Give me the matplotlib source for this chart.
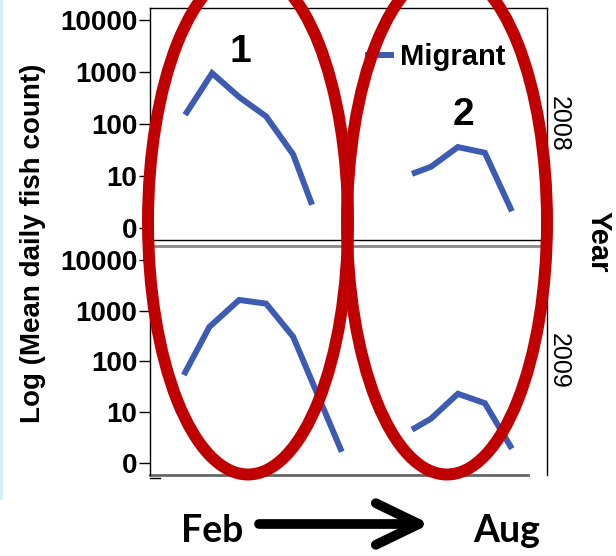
import numpy as np
import matplotlib
matplotlib.use("Agg")
import matplotlib.pyplot as plt
from matplotlib.patches import Ellipse, FancyArrowPatch, Rectangle

plt.rcParams['font.family'] = ['Liberation Sans', 'DejaVu Sans']

# weeks since start of February, mean daily counts (nan = gap between runs)
weeks_2008 = [1.3, 2.3, 3.3, 4.3, 5.3, 6.0, 8.0, 9.7, 10.4, 11.4, 12.4, 13.4]
counts_2008 = [150, 950, 330, 140, 26, 2.8, np.nan, 11, 15, 36, 28, 2.1]
weeks_2009 = [1.25, 2.2, 3.3, 4.3, 5.3, 7.1, 8.0, 9.7, 10.4, 11.4, 12.4, 13.4]
counts_2009 = [54, 480, 1630, 1380, 307, 1.65, np.nan, 4.5, 7.4, 23, 15, 1.9]

ytick_vals = [1, 10, 100, 1000, 10000]
ytick_labels = ['0', '10', '100', '1000', '10000']
years = ['2008', '2009']

W, H = 616, 556
fig = plt.figure(figsize=(W / 100, H / 100), dpi=100)

def fx(px):
    return px / W

def fy(py):
    return 1 - py / H

blue = '#3d5cb1'
red = '#c00000'

ax1 = fig.add_axes([fx(150), fy(240), fx(547) - fx(150), fy(8) - fy(240)])
ax2 = fig.add_axes([fx(150), fy(475), fx(547) - fx(150), fy(246) - fy(475)])

panels = [(ax1, weeks_2008, counts_2008, (0.588, 17000)),
          (ax2, weeks_2009, counts_2009, (0.575, 18900))]
for ax, wk, ct, ylim in panels:
    ax.plot(wk, ct, color=blue, lw=4.3, solid_capstyle='butt',
            solid_joinstyle='miter', label='Migrant')
    ax.set_yscale('log')
    ax.set_ylim(*ylim)
    ax.set_xlim(0, 14.7)
    ax.set_yticks(ytick_vals)
    ax.set_yticklabels(ytick_labels)
    ax.minorticks_off()
    ax.set_xticks([])
    ax.tick_params(axis='y', length=8, width=1, labelsize=20, pad=1)
    for lab in ax.get_yticklabels():
        lab.set_fontweight('bold')
    for s in ax.spines.values():
        s.set_linewidth(1)
        s.set_color('black')

ax2.spines['top'].set_color('#888888')
ax2.spines['top'].set_linewidth(2)
ax2.spines['bottom'].set_visible(False)
ax2.plot([0, 0.952], [0, 0], transform=ax2.transAxes, color='#666666',
         lw=2, clip_on=False)
ax2.plot([0, 0.025], [-0.013, -0.013], transform=ax2.transAxes, color='black',
         lw=1, clip_on=False)

ax1.legend(loc='center left', bbox_to_anchor=(fx(350), fy(57)),
           bbox_transform=fig.transFigure, frameon=False, borderpad=0,
           handlelength=1.0, handletextpad=0.2,
           prop={'size': 21, 'weight': 'bold'})

# year labels on the right
fig.text(fx(559), fy(124), years[0], rotation=-90, fontsize=18,
         ha='center', va='center')
fig.text(fx(559), fy(361), years[1], rotation=-90, fontsize=18,
         ha='center', va='center')
fig.text(fx(599), fy(242), 'Year', rotation=-90, fontsize=21,
         fontweight='bold', ha='center', va='center')

fig.text(fx(33), fy(243), 'Log (Mean daily fish count)', rotation=90,
         fontsize=20, fontweight='bold', ha='center', va='center')

# two migration runs circled
for cx in (248, 447):
    fig.add_artist(Ellipse((fx(cx), fy(222)), fx(200), 505 / H,
                           transform=fig.transFigure, fill=False,
                           edgecolor=red, lw=8.6, zorder=10))
fig.text(fx(240), fy(52), '1', fontsize=28, fontweight='bold',
         ha='center', va='center')
fig.text(fx(463), fy(115), '2', fontsize=28, fontweight='bold',
         ha='center', va='center')

# time direction
fig.text(fx(212), fy(531), 'Feb', fontsize=27, fontweight='bold',
         family=['Lato', 'DejaVu Sans'], ha='center', va='center')
fig.text(fx(507), fy(531), 'Aug', fontsize=27, fontweight='bold',
         family=['Lato', 'DejaVu Sans'], ha='center', va='center')
fig.add_artist(FancyArrowPatch((fx(259), fy(524)), (fx(430), fy(524)),
                               transform=fig.transFigure,
                               arrowstyle='->,head_length=31,head_width=15',
                               mutation_scale=1, shrinkA=0, shrinkB=0,
                               lw=7, color='black', capstyle='round',
                               joinstyle='round'))

fig.add_artist(Rectangle((0, fy(500)), fx(3), 500 / H,
                         transform=fig.transFigure, color='#d6eef6', lw=0))

fig.savefig('out.png', dpi=100)
